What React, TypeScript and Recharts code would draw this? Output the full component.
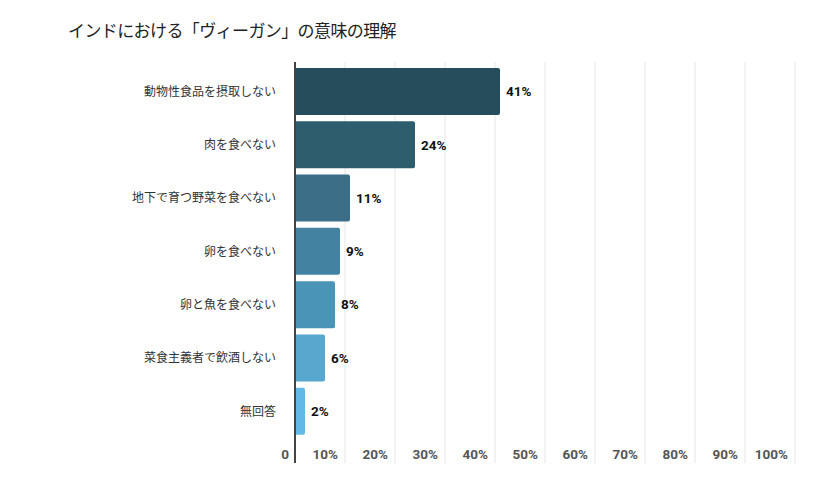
import { Bar, BarChart, CartesianGrid, Cell, LabelList, XAxis, YAxis } from "recharts"

// Survey answers, top to bottom
const categories = [
  "動物性食品を摂取しない",
  "肉を食べない",
  "地下で育つ野菜を食べない",
  "卵を食べない",
  "卵と魚を食べない",
  "菜食主義者で飲酒しない",
  "無回答",
]
const shares = [41, 24, 11, 9, 8, 6, 2]
const barColors = ["#264d5b", "#2e5e6e", "#3a6f87", "#4482a2", "#4a94b8", "#58a7cf", "#62b9e6"]
const xTicks = [0, 10, 20, 30, 40, 50, 60, 70, 80, 90, 100]

const data = categories.map((name, i) => ({ name, value: shares[i] }))

function PercentTick(props: any) {
  const { x, y, payload } = props
  const v = payload.value
  return (
    <text
      x={x - (v === 0 ? 6 : 7)}
      y={y - 12}
      textAnchor="end"
      fill="#555"
      fontFamily="Roboto, sans-serif"
      fontWeight={700}
      fontSize={13.5}
    >
      {v === 0 ? "0" : `${v}%`}
    </text>
  )
}

export default function App() {
  return (
    <div style={{ position: "absolute", left: 0, top: 0, width: 828, height: 487, background: "#fff" }}>
      <div
        style={{
          position: "absolute",
          left: 68,
          top: 17,
          fontFamily: '"Noto Sans CJK JP", sans-serif',
          fontSize: 17,
          color: "#222",
          whiteSpace: "nowrap",
          letterSpacing: -0.6,
        }}
      >
        インドにおける「ヴィーガン」の意味の理解
      </div>
      <BarChart
        width={828}
        height={487}
        data={data}
        layout="vertical"
        margin={{ top: 62, right: 33, bottom: 0, left: 0 }}
        barCategoryGap={3}
      >
        <CartesianGrid horizontal={false} stroke="#e6e6e6" />
        <XAxis
          type="number"
          domain={[0, 100]}
          ticks={xTicks}
          axisLine={false}
          tickLine={false}
          height={24}
          tick={<PercentTick />}
        />
        <YAxis
          type="category"
          dataKey="name"
          width={295}
          padding={{ top: 3, bottom: 25 }}
          axisLine={{ stroke: "#444", strokeWidth: 2 }}
          tickLine={false}
          tickSize={0}
          tickMargin={19}
          tick={{ fill: "#333", fontSize: 12, fontFamily: '"Noto Sans CJK JP", sans-serif' }}
        />
        <Bar dataKey="value" radius={[0, 2, 2, 0]} isAnimationActive={false}>
          {data.map((d, i) => (
            <Cell key={d.name} fill={barColors[i]} />
          ))}
          <LabelList
            dataKey="value"
            position="right"
            offset={6}
            formatter={(v: any) => `${v}%`}
            fill="#111"
            fontSize={13.5}
            fontWeight={700}
            fontFamily="Roboto, sans-serif"
          />
        </Bar>
      </BarChart>
    </div>
  )
}
